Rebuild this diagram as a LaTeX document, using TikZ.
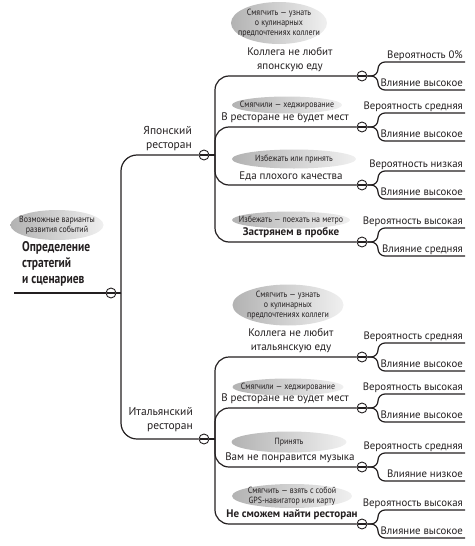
\documentclass[tikz,border=0pt]{standalone}
\usepackage{fontspec}
\setmainfont{PT Sans}
\newfontfamily\condfont[FakeStretch=0.88]{PT Sans}
\newfontfamily\rootfont[FakeStretch=0.82]{PT Sans}
\usetikzlibrary{shapes.geometric}
\definecolor{ink}{HTML}{231F20}
\tikzset{
  conn/.style={draw=ink, line width=1.2pt},
  mc/.style={circle, draw=ink, line width=0.9pt, fill=white, minimum size=10pt, inner sep=0pt,
    path picture={\draw[ink, line width=1.1pt] ([xshift=-3.6pt]path picture bounding box.center) -- ([xshift=3.6pt]path picture bounding box.center);}},
  cloud/.style={ellipse, inner sep=0pt, left color=black!30, right color=black!6, draw=none},
  cloudtxt/.style={inner sep=0pt, align=center, text=ink, font=\condfont\fontsize{9}{10.2}\selectfont},
  lbl/.style={inner sep=0pt, align=center, text=ink, anchor=south, font=\fontsize{11}{14}\selectfont},
  lblb/.style={lbl, font=\bfseries\fontsize{11}{14}\selectfont},
  leaf/.style={inner sep=0pt, anchor=base east, text=ink, font=\fontsize{10.8}{12}\selectfont},
  main/.style={inner sep=0pt, align=right, anchor=south east, text=ink, font=\fontsize{11.5}{14}\selectfont},
}
\begin{document}
\begin{tikzpicture}[x=1pt,y=-1pt]
\path[use as bounding box] (0,0) rectangle (474,546);

% root
\node[cloud, minimum width=93pt, minimum height=30pt] (re) at (57,225) {};
\node[cloudtxt] (ret) at (re) {Возможные варианты\\развития событий};
\node[inner sep=0pt, align=left, anchor=west, text=ink, font=\rootfont\bfseries\fontsize{14}{16}\selectfont] (root) at (22,264) {Определение\\стратегий\\и сценариев};
\coordinate (r0) at (14,293);
\node[mc] (rc) at (111,293) {};
\coordinate (jr) at (121,293);
\node[mc] (jc) at (204,155) {};
\node[mc] (ic) at (204,439) {};
\draw[conn] (r0) -- (rc);
\draw[conn] (rc) -- (jr);
\draw[conn, rounded corners=16pt] (jr) |- (jc);
\draw[conn, rounded corners=16pt] (jr) |- (ic);
\node[main] (jl) at (192,151) {Японский\\ресторан};
\node[main] (il) at (193,432) {Итальянский\\ресторан};

\coordinate (js) at (215,155);
\coordinate (is) at (215,439);
\draw[conn] (jc) -- (js);
\draw[conn] (ic) -- (is);

% branch circles, leaves
\foreach \n/\s/\y/\a/\b in {
  j1/js/76/Вероятность 0\%/Влияние высокое,
  j2/js/127/Вероятность средняя/Влияние высокое,
  j3/js/185/Вероятность низкая/Влияние высокое,
  j4/js/242/Вероятность высокая/Влияние средняя,
  i1/is/357/Вероятность средняя/Влияние высокое,
  i2/is/408/Вероятность высокая/Влияние высокое,
  i3/is/467/Вероятность средняя/Влияние низкое,
  i4/is/524/Вероятность высокая/Влияние высокое}{
  \node[mc] (\n c) at (362,\y) {};
  \draw[conn, rounded corners=14pt] (\s) |- (\n c);
  \coordinate (\n k) at (378,\y);
  \coordinate (\n u) at (465,\y-14);
  \coordinate (\n d) at (465,\y+14);
  \draw[conn, rounded corners=7pt] (\n c) -- (\n k) |- (\n u);
  \draw[conn, rounded corners=7pt] (\n c) -- (\n k) |- (\n d);
  \node[leaf] (\n a) at (463,\y-17.5) {\a};
  \node[leaf] (\n b) at (463,\y+10.5) {\b};
}

% labels
\node[lbl] (j1l) at (290,72) {Коллега не любит\\японскую еду};
\node[lbl] (j2l) at (285,123) {В ресторане не будет мест};
\node[lbl] (j3l) at (291,181) {Еда плохого качества};
\node[lblb] (j4l) at (291,238) {Застрянем в пробке};
\node[lbl] (i1l) at (291,353) {Коллега не любит\\итальянскую еду};
\node[lbl] (i2l) at (285,404) {В ресторане не будет мест};
\node[lbl] (i3l) at (290,463) {Вам не понравится музыка};
\node[lblb] (i4l) at (292,520) {Не сможем найти ресторан};

% clouds
\node[cloud, minimum width=96pt, minimum height=42pt] (j1e) at (279,23) {};
\node[cloudtxt] (j1t) at (j1e) {Смягчить — узнать\\о кулинарных\\предпочтениях коллеги};
\node[cloud, minimum width=110pt, minimum height=17pt] (j2e) at (287,105) {};
\node[cloudtxt] (j2t) at (j2e) {Смягчили — хеджирование};
\node[cloud, minimum width=124pt, minimum height=19pt] (j3e) at (294,159) {};
\node[cloudtxt] (j3t) at (j3e) {Избежать или принять};
\node[cloud, minimum width=118pt, minimum height=17pt] (j4e) at (291,220) {};
\node[cloudtxt] (j4t) at (j4e) {Избежать — поехать на метро};
\node[cloud, minimum width=111pt, minimum height=41pt] (i1e) at (288,305) {};
\node[cloudtxt] (i1t) at (i1e) {Смягчить — узнать\\о кулинарных\\предпочтениях коллеги};
\node[cloud, minimum width=111pt, minimum height=17pt] (i2e) at (288,387) {};
\node[cloudtxt] (i2t) at (i2e) {Смягчили — хеджирование};
\node[cloud, minimum width=115pt, minimum height=21pt] (i3e) at (289,442) {};
\node[cloudtxt] (i3t) at (i3e) {Принять};
\node[cloud, minimum width=120pt, minimum height=24pt] (i4e) at (292,496) {};
\node[cloudtxt] (i4t) at (i4e) {Смягчить — взять с собой\\GPS-навигатор или карту};
\end{tikzpicture}
\end{document}
